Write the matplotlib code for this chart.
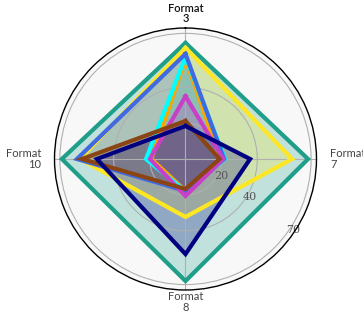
import numpy as np
import matplotlib
matplotlib.use("Agg")
import matplotlib.pyplot as plt

# axes in clockwise order starting at the top
categories = ["Format\n3", "Format\n7", "Format\n8", "Format\n10"]

teal = [64.7, 68.3, 68.0, 68.9]
yellow = [62.0, 59.4, 32.3, 58.8]
orange = [55.5, 19.5, 17.8, 19.0]
cyan = [57.0, 22.0, 18.0, 22.0]
blue = [58.6, 21.5, 17.8, 60.5]
magenta = [35.0, 21.0, 20.6, 19.8]
brown = [21.2, 19.0, 16.7, 57.7]
navy = [18.4, 36.0, 53.0, 49.4]

series = [
    (teal, "#1f9e89"),
    (yellow, "#fde725"),
    (orange, "#ffa500"),
    (cyan, "#00ffff"),
    (blue, "#4169e1"),
    (magenta, "#c83fc8"),
    (brown, "#8b4513"),
    (navy, "#000080"),
]

rticks = [20, 40, 70]

angles = np.linspace(0, 2 * np.pi, len(categories), endpoint=False)
closed = np.append(angles, angles[0])

fig = plt.figure(figsize=(3.63, 3.13), dpi=100)
ax = fig.add_axes([0.150, 0.0735, 0.722, 0.837], projection="polar")
ax.set_theta_offset(np.pi / 2)
ax.set_theta_direction(-1)
ax.set_facecolor("#f8f8f8")

for vals, col in series:
    v = np.append(vals, vals[0])
    ax.fill(closed, v, color=col, alpha=0.25, lw=0)
    ax.plot(closed, v, color=col, lw=3, solid_joinstyle="miter")

ax.set_ylim(0, 73)
ax.set_yticks(rticks)
ax.set_yticklabels([str(t) for t in rticks], family="DejaVu Serif",
                   fontsize=8, color="#555555")
ax.set_rlabel_position(127)
ax.set_xticks(angles)
ax.set_xticklabels([])

# category labels placed by hand: wider gap left/right than top/bottom
label_r = [75.0, 80.5, 73.8, 80.5]
label_ha = ["center", "left", "center", "right"]
label_va = ["bottom", "center", "top", "center"]
for i, lab in enumerate(categories):
    top = i == 0
    ax.text(angles[i], label_r[i], lab, ha=label_ha[i], va=label_va[i],
            family="Lato", fontsize=8, linespacing=0.95,
            color="#111111" if top else "#444444",
            fontweight="semibold" if top else "normal", clip_on=False)

ax.grid(color="#b0b0b0", lw=0.8)
ax.spines["polar"].set_color("black")
ax.spines["polar"].set_linewidth(1.0)

fig.savefig("out.png", dpi=100)
